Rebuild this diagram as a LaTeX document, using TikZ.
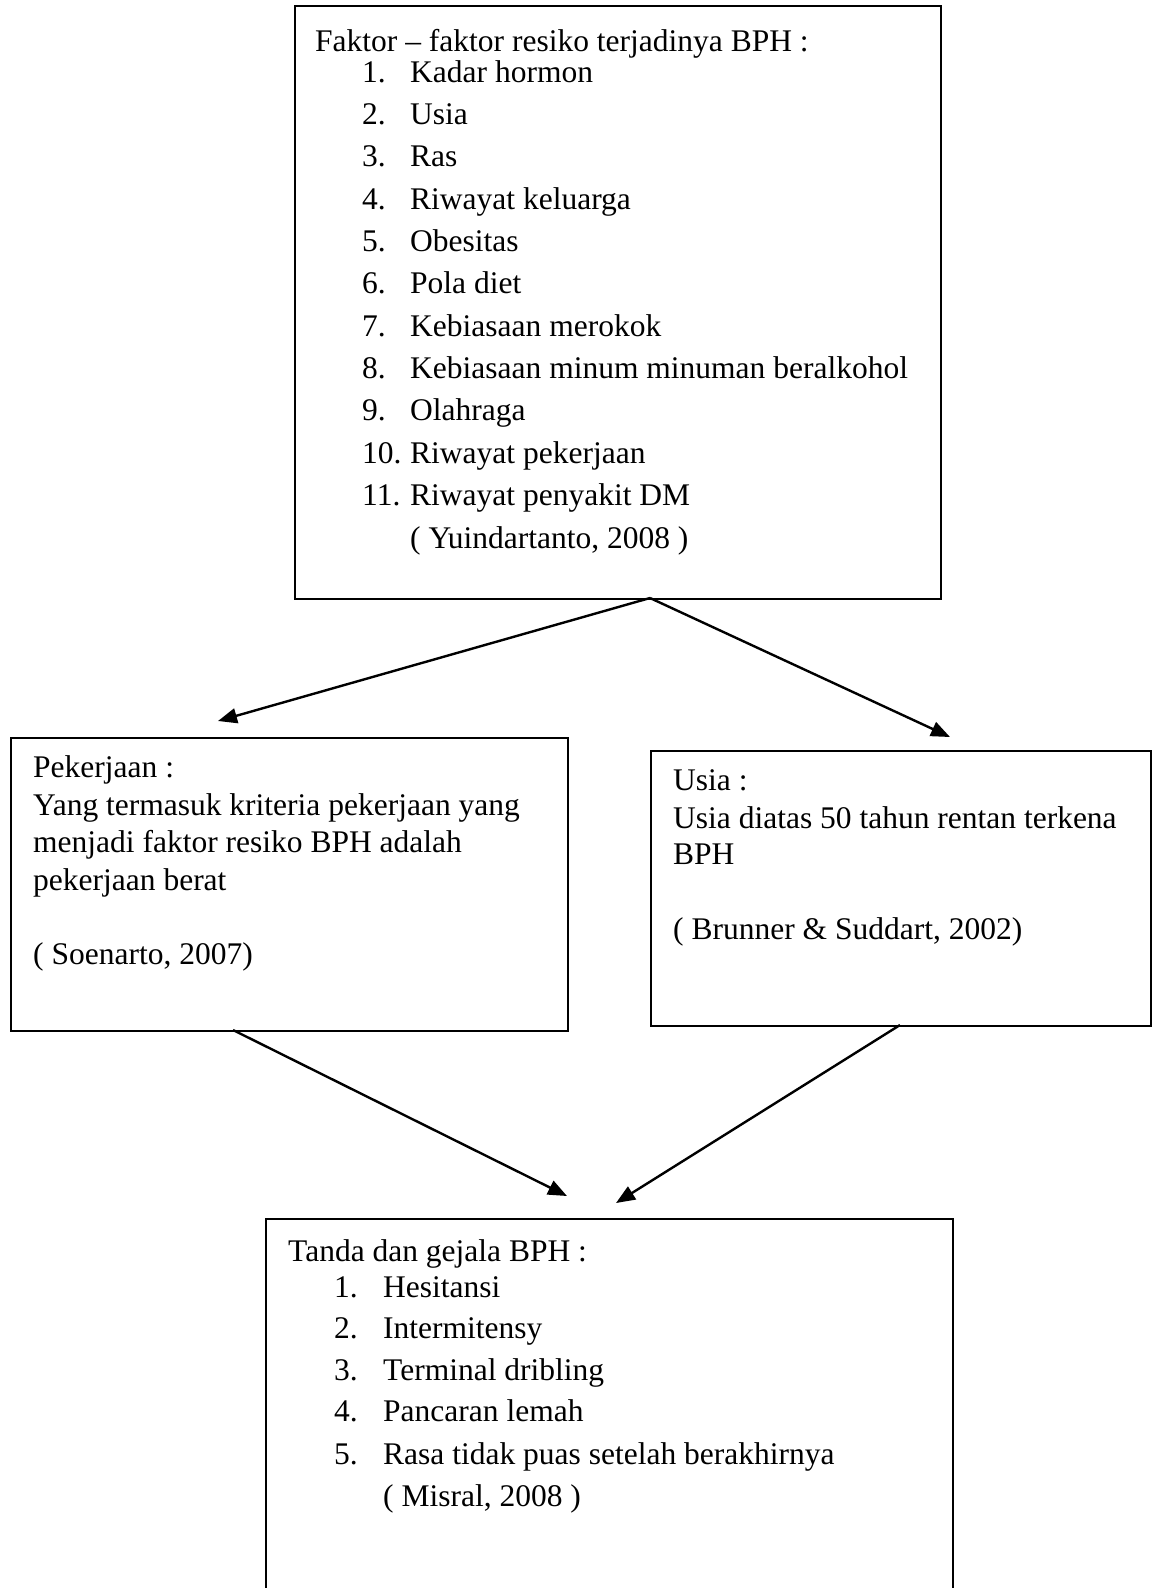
\documentclass[tikz,border=0pt]{standalone}
\usepackage{fontspec}
\setmainfont{Liberation Serif}
\usetikzlibrary{arrows.meta}
\begin{document}
\begin{tikzpicture}[x=1pt,y=-1pt,
  box/.style={draw,line width=2.2pt,rectangle,inner sep=0pt,anchor=north west},
  txt/.style={inner sep=0pt,anchor=base west,font=\fontsize{31.5}{37}\selectfont},
  conn/.style={line width=2.4pt,-{Triangle[length=19pt,width=15pt]}}]
\useasboundingbox (0,0) rectangle (1155,1588);
\begin{scope}
\clip (0,0) rectangle (1155,1588);
% boxes
\node[box,minimum width=646pt,minimum height=593pt] (top) at (294,5) {};
\node[box,minimum width=557pt,minimum height=293pt] (left) at (10,737) {};
\node[box,minimum width=500pt,minimum height=275pt] (right) at (650,750) {};
\node[box,minimum width=687pt,minimum height=400pt] (bottom) at (265,1218) {};
% top box text
\node[txt] (t0) at (315,51) {Faktor -- faktor resiko terjadinya BPH :};
\foreach \i/\y/\t in {1/82/Kadar hormon,2/124.4/Usia,3/166.7/Ras,4/209.1/Riwayat keluarga,
  5/251.4/Obesitas,6/293.8/Pola diet,7/336.1/Kebiasaan merokok,
  8/378.5/Kebiasaan minum minuman beralkohol,9/420.8/Olahraga,
  10/463.2/Riwayat pekerjaan,11/505.5/Riwayat penyakit DM}{
  \node[txt] (tn\i) at (362,\y) {\i.};
  \node[txt] (ti\i) at (410,\y) {\t};
}
\node[txt] (tc) at (410,548) {( Yuindartanto, 2008 )};
% left box text
\node[txt] (l0) at (33,777) {Pekerjaan :};
\node[txt] (l1) at (33,815) {Yang termasuk kriteria pekerjaan yang};
\node[txt] (l2) at (33,852) {menjadi faktor resiko BPH adalah};
\node[txt] (l3) at (33,890) {pekerjaan berat};
\node[txt] (lc) at (33,964.5) {( Soenarto, 2007)};
% right box text
\node[txt] (r0) at (673,790) {Usia :};
\node[txt] (r1) at (673,828) {Usia diatas 50 tahun rentan terkena};
\node[txt] (r2) at (673,864) {BPH};
\node[txt] (rc) at (673,939) {( Brunner \& Suddart, 2002)};
% bottom box text
\node[txt] (b0) at (288,1261) {Tanda dan gejala BPH :};
\foreach \i/\y/\t in {1/1297/Hesitansi,2/1338/Intermitensy,3/1380/Terminal dribling,
  4/1421.5/Pancaran lemah,5/1464/Rasa tidak puas setelah berakhirnya}{
  \node[txt] (bn\i) at (334,\y) {\i.};
  \node[txt] (bi\i) at (383,\y) {\t};
}
\node[txt] (bc) at (383,1506) {( Misral, 2008 )};
% connector points
\coordinate (topout) at (650,598);
\coordinate (tipL) at (218,721);
\coordinate (tipR) at (950,737);
\coordinate (lout) at (233,1030);
\coordinate (rout) at (900,1025);
\coordinate (tipB1) at (567,1196);
\coordinate (tipB2) at (616,1203);
\draw[conn] (topout) -- (tipL);
\draw[conn] (topout) -- (tipR);
\draw[conn] (lout) -- (tipB1);
\draw[conn] (rout) -- (tipB2);
\end{scope}
\end{tikzpicture}
\end{document}
